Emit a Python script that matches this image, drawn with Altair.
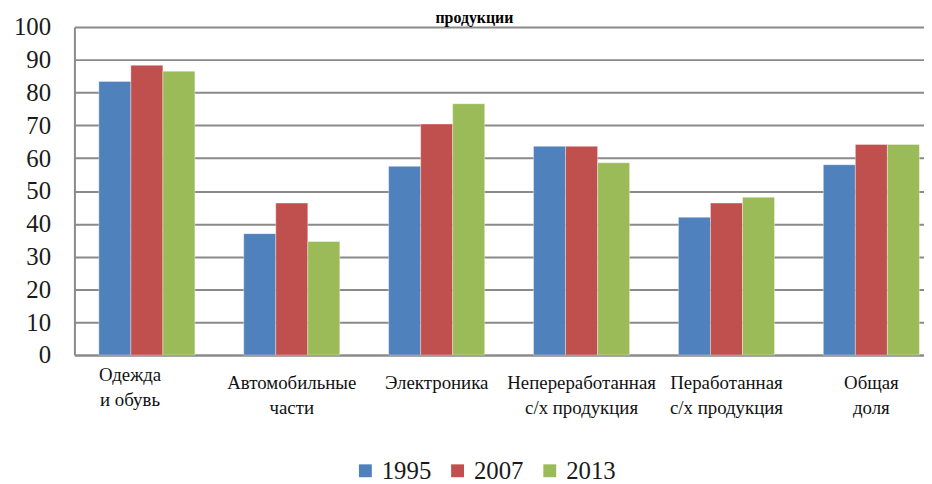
import altair as alt
import pandas as pd

categories = ["Одежда|и обувь", "Автомобильные|части", "Электроника",
              "Непереработанная|с/х продукция", "Пеработанная|с/х продукция", "Общая|доля"]
years = ["1995", "2007", "2013"]
v1995 = [83.4, 37.0, 57.5, 63.6, 42.0, 58.0]
v2007 = [88.3, 46.3, 70.4, 63.6, 46.3, 64.2]
v2013 = [86.5, 34.6, 76.6, 58.6, 48.1, 64.2]
colors = ["#4F81BD", "#C0504D", "#9BBB59"]
title_text = "продукции"

rows = []
for yr, vals in zip(years, [v1995, v2007, v2013]):
    for c, v in zip(categories, vals):
        rows.append({"category": c, "year": yr, "value": v})
df = pd.DataFrame(rows)

FONT = "Liberation Serif"
GRID = "#8a8a8a"
first = categories[0]

bars = alt.Chart(df).mark_bar(stroke="#ffffff", strokeWidth=0.6, strokeOpacity=0.6).encode(
    x=alt.X("category:N", sort=categories,
            scale=alt.Scale(range=[0, 877], paddingInner=0.337, paddingOuter=0.1685),
            axis=alt.Axis(title=None, labelAngle=0, labelExpr="split(datum.label, '|')",
                          labelFont=FONT, labelFontSize=19, labelColor="#111111",
                          labelPadding={"condition": {"test": f"datum.value == '{first}'", "value": 11}, "value": 19},
                          labelOffset={"condition": {"test": f"datum.value == '{first}'", "value": -17}, "value": 0},
                          labelLineHeight=25, ticks=False,
                          domainColor=GRID, domainWidth=2, labelLimit=300,
                          labelBaseline="top")),
    xOffset=alt.XOffset("year:N", sort=years, scale=alt.Scale(paddingInner=0, paddingOuter=0)),
    y=alt.Y("value:Q", scale=alt.Scale(domain=[0, 100], nice=False),
            axis=alt.Axis(title=None, values=list(range(0, 101, 10)), ticks=False,
                          labelFont=FONT, labelFontSize=25, labelColor="#1a1a1a",
                          labelPadding=24, grid=True, gridColor=GRID, gridWidth=2,
                          domainColor=GRID, domainWidth=2)),
    color=alt.Color("year:N", sort=years, scale=alt.Scale(domain=years, range=colors),
                    legend=alt.Legend(title=None, orient="none", direction="horizontal",
                                      legendX=281, legendY=435, padding=0,
                                      symbolType="square", symbolSize=169, symbolStrokeWidth=0,
                                      labelFont=FONT, labelFontSize=25, labelColor="#1a1a1a",
                                      labelOffset=4, columnPadding=14)),
)

chart = bars.properties(
    width=849, height=331,
    autosize=alt.AutoSizeParams(type="none"),
    padding={"left": 67, "top": 17, "right": 8, "bottom": 128},
    title=alt.TitleParams(title_text, font=FONT, fontSize=16, fontWeight="bold",
                          anchor="middle", offset=-11, dx=-21, color="#000000"),
).configure(background="#ffffff", font=FONT).configure_view(stroke=None)

chart.save("out.html", embed_options={"renderer": "svg", "actions": False})
